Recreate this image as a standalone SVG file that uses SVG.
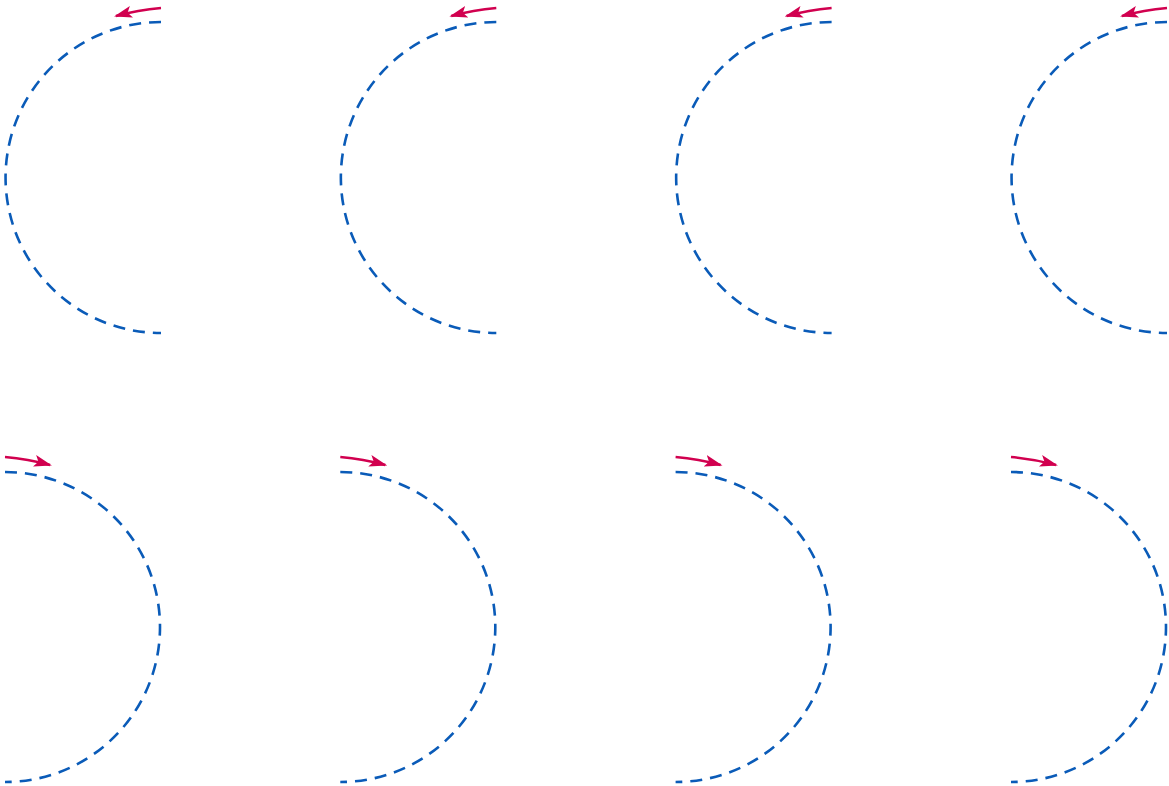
<svg xmlns="http://www.w3.org/2000/svg" width="1169" height="786" viewBox="0 0 1169 786">
<style>
.arc{fill:none;stroke:#0a5bb8;stroke-width:2.6;stroke-dasharray:12 8}
.arr{fill:none;stroke:#d1004f;stroke-width:2.4}
</style>
<defs>
<marker id="ah" viewBox="0 0 18 12" refX="16" refY="6" markerWidth="18" markerHeight="12" markerUnits="userSpaceOnUse" orient="auto">
<path d="M0,0 L18,6 L0,12 L4,6 Z" fill="#d1004f"/>
</marker>
<g id="top">
<path class="arc" d="M161,22 A155.5,155.5 0 0,0 161,333"/>
<path class="arr" d="M161,8 Q138,10 116,16" marker-end="url(#ah)"/>
</g>
<g id="bot">
<path class="arc" d="M5,472 A155,155 0 0,1 5,782"/>
<path class="arr" d="M5,457 Q28,459 50,465" marker-end="url(#ah)"/>
</g>
</defs>
<g id="connectors">
<use id="t1" href="#top"/>
<use id="t2" href="#top" x="335.3"/>
<use id="t3" href="#top" x="670.6"/>
<use id="t4" href="#top" x="1006"/>
<use id="b1" href="#bot"/>
<use id="b2" href="#bot" x="335.3"/>
<use id="b3" href="#bot" x="670.6"/>
<use id="b4" href="#bot" x="1006"/>
</g>
</svg>
